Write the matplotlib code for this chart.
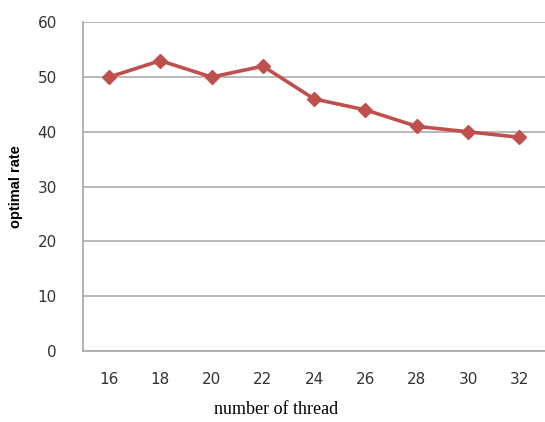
import matplotlib.pyplot as plt

# data
threads = ["16", "18", "20", "22", "24", "26", "28", "30", "32"]
optimal_rate = [50, 53, 50, 52, 46, 44, 41, 40, 39]
y_ticks = [0, 10, 20, 30, 40, 50, 60]

LINE_COLOR = "#C0504D"
GRID_COLOR = "#A6A6A6"
TICK_COLOR = "#333333"

W, H = 545, 422
fig = plt.figure(figsize=(W / 100, H / 100), dpi=100)
ax = fig.add_axes([0.153, 0.169, 0.847, 0.778])

x = list(range(len(threads)))
ax.plot(x, optimal_rate, color=LINE_COLOR, linewidth=2.6, marker="D",
        markersize=7.5, markerfacecolor=LINE_COLOR, markeredgecolor=LINE_COLOR,
        zorder=3)

ax.set_xlim(-0.5, len(threads) - 0.5)
ax.set_ylim(0, 60)
ax.set_xticks(x)
ax.set_xticklabels(threads, family="DejaVu Sans")
ax.set_yticks(y_ticks)
ax.set_yticklabels([str(v) for v in y_ticks], family="DejaVu Sans")

ax.yaxis.grid(True, color=GRID_COLOR, linewidth=1.1)
ax.set_axisbelow(True)
for side in ("top", "right"):
    ax.spines[side].set_visible(False)
for side in ("left", "bottom"):
    ax.spines[side].set_color(GRID_COLOR)
    ax.spines[side].set_linewidth(1.2)

ax.tick_params(axis="both", length=0, colors=TICK_COLOR, labelsize=11)
ax.tick_params(axis="x", pad=15)
ax.tick_params(axis="y", pad=19)

# axis titles placed in figure pixels
fig.text(276 / W, 1 - 410 / H, "number of thread", family="Liberation Serif",
         fontsize=13, ha="center", va="center", color="black")
fig.text(16 / W, 1 - 187 / H, "optimal rate", family="Liberation Sans",
         fontweight="bold", fontsize=10.5, rotation=90, ha="center",
         va="center", color="black")

fig.savefig("out.png", dpi=100)
